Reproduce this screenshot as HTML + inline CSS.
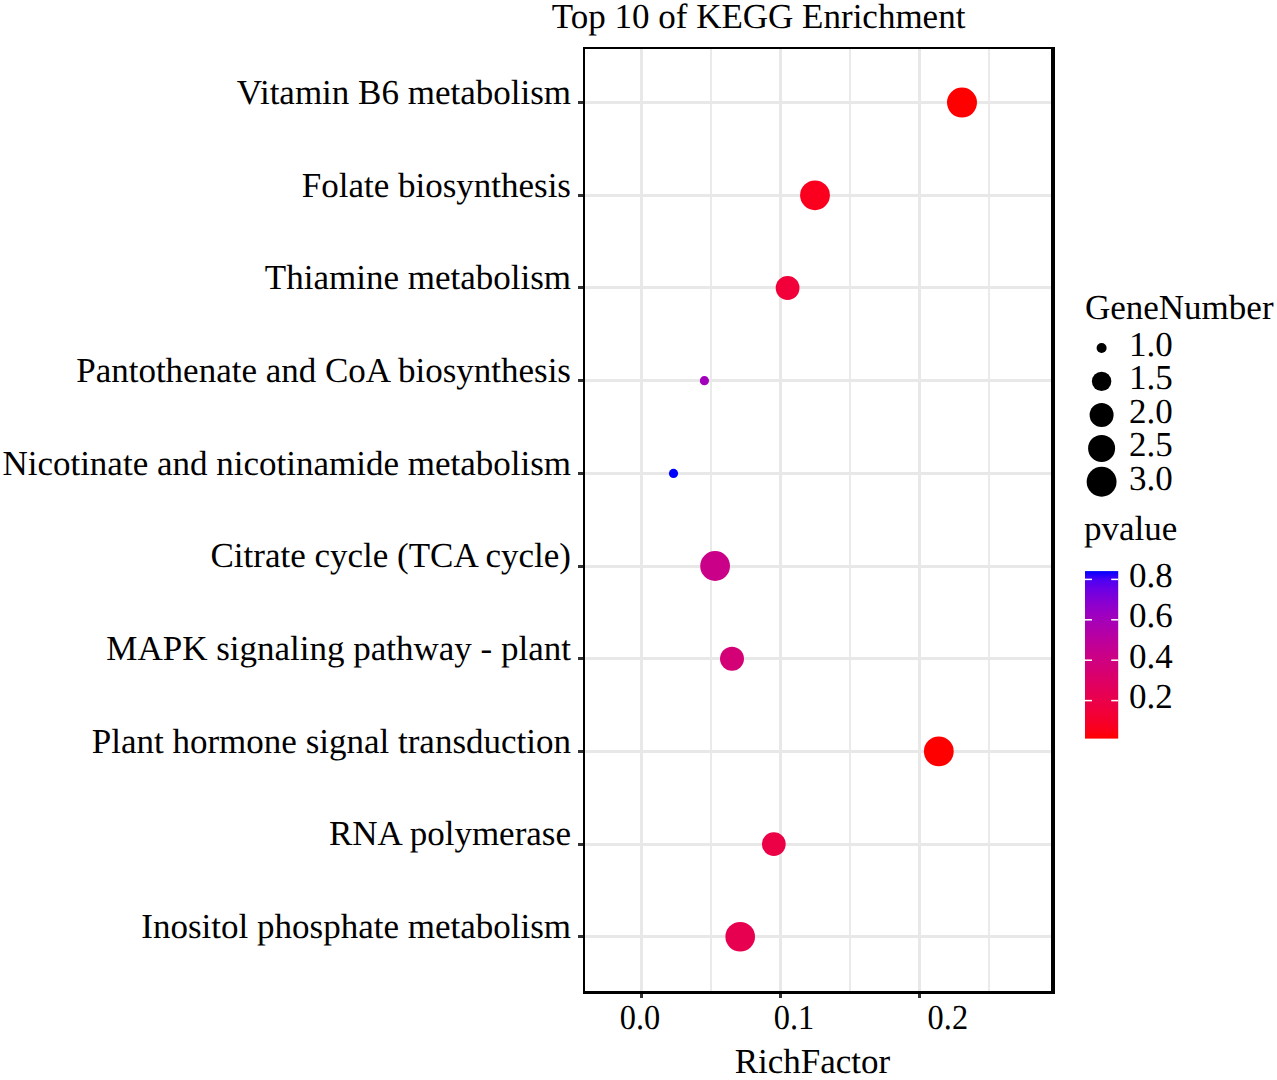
<!DOCTYPE html><html><head><meta charset="utf-8"><style>html,body{margin:0;padding:0;background:#fff;width:1277px;height:1080px;overflow:hidden}svg{display:block;text-rendering:geometricPrecision}</style></head><body>
<svg width="1277" height="1080" viewBox="0 0 1277 1080" font-family="&quot;Liberation Serif&quot;, serif" font-size="35">
<rect width="1277" height="1080" fill="#fff"/>
<rect x="710" y="49" width="2" height="942" fill="#eaeaea"/>
<rect x="849" y="49" width="2" height="942" fill="#eaeaea"/>
<rect x="988" y="49" width="2" height="942" fill="#eaeaea"/>
<rect x="640" y="49" width="3" height="942" fill="#e8e8e8"/>
<rect x="779" y="49" width="3" height="942" fill="#e8e8e8"/>
<rect x="918" y="49" width="3" height="942" fill="#e8e8e8"/>
<rect x="585" y="101" width="466" height="3" fill="#e8e8e8"/>
<rect x="585" y="194" width="466" height="3" fill="#e8e8e8"/>
<rect x="585" y="286" width="466" height="3" fill="#e8e8e8"/>
<rect x="585" y="379" width="466" height="3" fill="#e8e8e8"/>
<rect x="585" y="472" width="466" height="3" fill="#e8e8e8"/>
<rect x="585" y="565" width="466" height="3" fill="#e8e8e8"/>
<rect x="585" y="657" width="466" height="3" fill="#e8e8e8"/>
<rect x="585" y="750" width="466" height="3" fill="#e8e8e8"/>
<rect x="585" y="843" width="466" height="3" fill="#e8e8e8"/>
<rect x="585" y="935" width="466" height="3" fill="#e8e8e8"/>
<circle cx="962.0" cy="102.6" r="15.0" fill="#ff0000"/>
<circle cx="815.0" cy="195.3" r="14.9" fill="#fa001e"/>
<circle cx="787.6" cy="288.0" r="11.9" fill="#f1003a"/>
<circle cx="704.4" cy="380.7" r="4.6" fill="#a200bb"/>
<circle cx="673.5" cy="473.4" r="4.6" fill="#0000ff"/>
<circle cx="715.1" cy="566.0" r="14.9" fill="#ca0088"/>
<circle cx="732.0" cy="658.7" r="12.0" fill="#d40076"/>
<circle cx="938.8" cy="751.4" r="14.9" fill="#ff0000"/>
<circle cx="773.8" cy="844.1" r="11.9" fill="#ec0046"/>
<circle cx="740.2" cy="936.8" r="14.8" fill="#e80050"/>
<rect x="583" y="47" width="2" height="947" fill="#000"/>
<rect x="583" y="47" width="472" height="2" fill="#000"/>
<rect x="1051" y="47" width="4" height="947" fill="#000"/>
<rect x="583" y="991" width="472" height="3" fill="#000"/>
<rect x="578" y="101" width="5" height="3" fill="#333"/>
<text x="571" y="103.8" text-anchor="end">Vitamin B6 metabolism</text>
<rect x="578" y="194" width="5" height="3" fill="#333"/>
<text x="571" y="196.5" text-anchor="end">Folate biosynthesis</text>
<rect x="578" y="286" width="5" height="3" fill="#333"/>
<text x="571" y="289.2" text-anchor="end">Thiamine metabolism</text>
<rect x="578" y="379" width="5" height="3" fill="#333"/>
<text x="571" y="381.9" text-anchor="end">Pantothenate and CoA biosynthesis</text>
<rect x="578" y="472" width="5" height="3" fill="#333"/>
<text x="571" y="474.6" text-anchor="end">Nicotinate and nicotinamide metabolism</text>
<rect x="578" y="565" width="5" height="3" fill="#333"/>
<text x="571" y="567.2" text-anchor="end">Citrate cycle (TCA cycle)</text>
<rect x="578" y="657" width="5" height="3" fill="#333"/>
<text x="571" y="659.9" text-anchor="end">MAPK signaling pathway - plant</text>
<rect x="578" y="750" width="5" height="3" fill="#333"/>
<text x="571" y="752.6" text-anchor="end">Plant hormone signal transduction</text>
<rect x="578" y="843" width="5" height="3" fill="#333"/>
<text x="571" y="845.3" text-anchor="end">RNA polymerase</text>
<rect x="578" y="935" width="5" height="3" fill="#333"/>
<text x="571" y="938.0" text-anchor="end">Inositol phosphate metabolism</text>
<rect x="640.0" y="994" width="3" height="4" fill="#333"/>
<rect x="779.0" y="994" width="3" height="4" fill="#333"/>
<rect x="918.0" y="994" width="3" height="4" fill="#333"/>
<text transform="translate(619.8,1029.4) scale(0.925,1)">0.0</text>
<text transform="translate(773.8,1029.4) scale(0.925,1)">0.1</text>
<text transform="translate(927.5999999999999,1029.4) scale(0.925,1)">0.2</text>
<text x="812.5" y="1073" text-anchor="middle">RichFactor</text>
<text x="758.6" y="28.2" text-anchor="middle">Top 10 of KEGG Enrichment</text>
<text x="1085" y="318.8">GeneNumber</text>
<circle cx="1101.6" cy="348.0" r="5.0" fill="#000"/>
<text x="1129" y="355.7">1.0</text>
<circle cx="1101.6" cy="381.4" r="9.7" fill="#000"/>
<text x="1129" y="389.1">1.5</text>
<circle cx="1101.6" cy="414.9" r="12.0" fill="#000"/>
<text x="1129" y="422.6">2.0</text>
<circle cx="1101.6" cy="448.4" r="13.5" fill="#000"/>
<text x="1129" y="456.1">2.5</text>
<circle cx="1101.6" cy="481.8" r="14.95" fill="#000"/>
<text x="1129" y="489.5">3.0</text>
<text x="1084" y="539.8">pvalue</text>
<defs><linearGradient id="g" x1="0" y1="1" x2="0" y2="0"><stop offset="0.00" stop-color="#ff0000"/><stop offset="0.05" stop-color="#fb001a"/><stop offset="0.10" stop-color="#f6002a"/><stop offset="0.15" stop-color="#f20037"/><stop offset="0.20" stop-color="#ed0044"/><stop offset="0.25" stop-color="#e80050"/><stop offset="0.30" stop-color="#e3005b"/><stop offset="0.35" stop-color="#dd0066"/><stop offset="0.40" stop-color="#d70072"/><stop offset="0.45" stop-color="#d1007d"/><stop offset="0.50" stop-color="#ca0088"/><stop offset="0.55" stop-color="#c20094"/><stop offset="0.60" stop-color="#ba009f"/><stop offset="0.65" stop-color="#b000ab"/><stop offset="0.70" stop-color="#a600b7"/><stop offset="0.75" stop-color="#9a00c3"/><stop offset="0.80" stop-color="#8d00ce"/><stop offset="0.85" stop-color="#7c00da"/><stop offset="0.90" stop-color="#6800e7"/><stop offset="0.95" stop-color="#4b00f3"/><stop offset="1.00" stop-color="#0000ff"/></linearGradient></defs>
<rect x="1085" y="571.1" width="33.2" height="167.5" fill="url(#g)"/>
<rect x="1085" y="578.65" width="7" height="1.5" fill="#fff"/>
<rect x="1111.2" y="578.65" width="7" height="1.5" fill="#fff"/>
<text x="1129" y="586.9">0.8</text>
<rect x="1085" y="619.05" width="7" height="1.5" fill="#fff"/>
<rect x="1111.2" y="619.05" width="7" height="1.5" fill="#fff"/>
<text x="1129" y="627.3">0.6</text>
<rect x="1085" y="659.45" width="7" height="1.5" fill="#fff"/>
<rect x="1111.2" y="659.45" width="7" height="1.5" fill="#fff"/>
<text x="1129" y="667.7">0.4</text>
<rect x="1085" y="699.85" width="7" height="1.5" fill="#fff"/>
<rect x="1111.2" y="699.85" width="7" height="1.5" fill="#fff"/>
<text x="1129" y="708.1">0.2</text>
</svg></body></html>
